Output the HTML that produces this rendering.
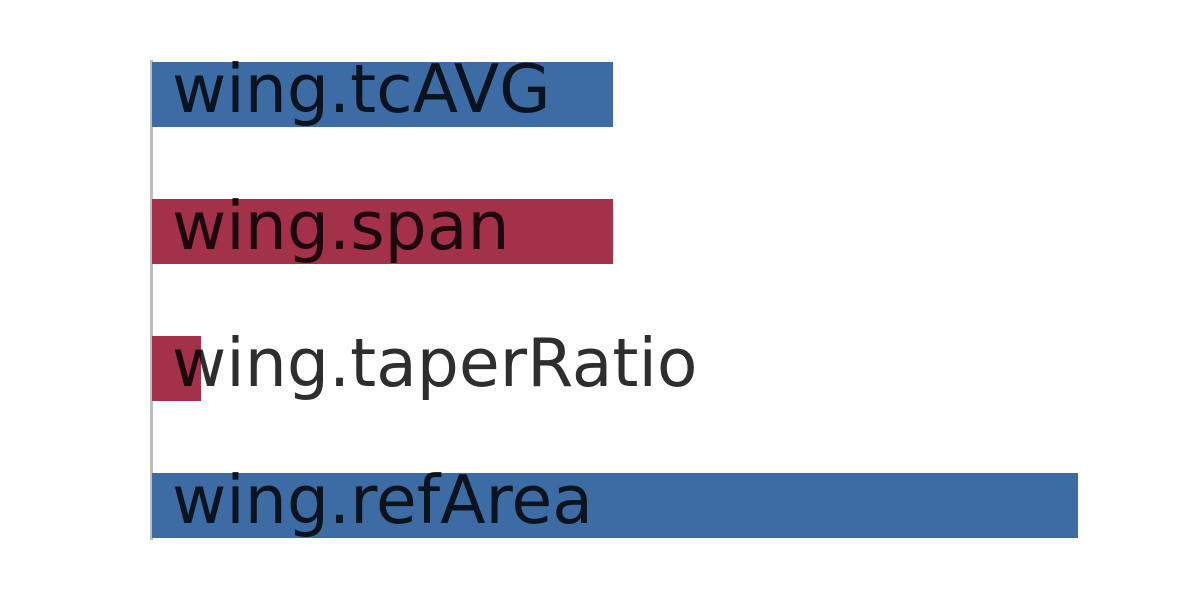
<!DOCTYPE html>
<html><head><style>
body{margin:0;width:1200px;height:600px;background:#fff;position:relative;overflow:hidden;font-family:"DejaVu Sans","Liberation Sans",sans-serif}
.ax{position:absolute;left:150px;top:60px;width:3px;height:480px;background:#bdbdbd}
.b{position:absolute;left:152px;height:65px}
.t{position:absolute;left:172px;height:65px;line-height:65px;font-size:66.4px;color:rgba(0,0,0,0.82);white-space:nowrap}
</style></head><body>
<div class="ax"></div>
<div class="b" style="top:62px;width:461px;background:#3d6ca5"></div>
<div class="b" style="top:199px;width:461px;background:#a3314a"></div>
<div class="b" style="top:336px;width:49px;background:#a3314a"></div>
<div class="b" style="top:473px;width:926px;background:#3d6ca5"></div>
<div class="t" style="top:57px">wing.tcAVG</div>
<div class="t" style="top:194px">wing.span</div>
<div class="t" style="top:331px">wing.taperRatio</div>
<div class="t" style="top:468px">wing.refArea</div>
</body></html>
